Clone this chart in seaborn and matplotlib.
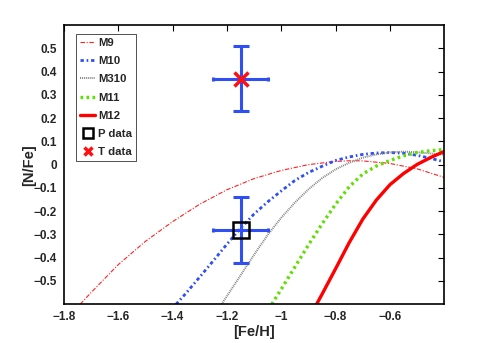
import matplotlib
matplotlib.use("Agg")
import matplotlib.pyplot as plt
import seaborn as sns

# ---- data ----
m9_x = [-1.74, -1.70, -1.60, -1.50, -1.40, -1.30, -1.20, -1.10, -1.00, -0.90, -0.80, -0.74, -0.70, -0.60, -0.50, -0.40]
m9_y = [-0.60, -0.55, -0.43, -0.33, -0.245, -0.17, -0.108, -0.06, -0.025, 0.0, 0.014, 0.017, 0.016, 0.005, -0.018, -0.055]

m10_x = [-1.387, -1.35, -1.30, -1.25, -1.20, -1.15, -1.10, -1.05, -1.00, -0.95, -0.90, -0.85, -0.80, -0.75, -0.70, -0.65, -0.60, -0.55, -0.50, -0.45, -0.40]
m10_y = [-0.60, -0.552, -0.483, -0.413, -0.342, -0.274, -0.212, -0.160, -0.113, -0.068, -0.034, -0.007, 0.018, 0.033, 0.044, 0.050, 0.052, 0.049, 0.040, 0.027, 0.012]

m310_x = [-1.22, -1.20, -1.15, -1.10, -1.05, -1.00, -0.95, -0.90, -0.85, -0.80, -0.75, -0.70, -0.65, -0.60, -0.55, -0.50, -0.45, -0.40]
m310_y = [-0.60, -0.565, -0.476, -0.387, -0.302, -0.228, -0.163, -0.106, -0.058, -0.02, 0.008, 0.03, 0.044, 0.053, 0.056, 0.053, 0.048, 0.043]

m11_x = [-1.035, -1.00, -0.95, -0.90, -0.85, -0.80, -0.75, -0.70, -0.65, -0.60, -0.55, -0.50, -0.45, -0.40]
m11_y = [-0.60, -0.535, -0.44, -0.345, -0.255, -0.17, -0.095, -0.04, -0.006, 0.018, 0.038, 0.052, 0.06, 0.065]

m12_x = [-0.87, -0.85, -0.80, -0.75, -0.70, -0.65, -0.60, -0.55, -0.50, -0.45, -0.40]
m12_y = [-0.60, -0.557, -0.447, -0.335, -0.234, -0.152, -0.086, -0.038, 0.001, 0.031, 0.057]

p_x, p_y, p_xerr, p_yerr = -1.15, -0.28, 0.10, 0.142
t_x, t_y, t_xerr, t_yerr = -1.15, 0.37, 0.10, 0.14

x_ticks = [-1.8, -1.6, -1.4, -1.2, -1.0, -0.8, -0.6]
x_labels = ["\u22121.8", "\u22121.6", "\u22121.4", "\u22121.2", "\u22121", "\u22120.8", "\u22120.6"]
y_ticks = [-0.5, -0.4, -0.3, -0.2, -0.1, 0, 0.1, 0.2, 0.3, 0.4, 0.5]
y_labels = ["\u22120.5", "\u22120.4", "\u22120.3", "\u22120.2", "\u22120.1", "0", "0.1", "0.2", "0.3", "0.4", "0.5"]

# ---- figure ----
sns.set_theme(style="white")
plt.rcParams['font.family'] = ['Liberation Sans', 'DejaVu Sans']
fig = plt.figure(figsize=(4.91, 3.43), dpi=100)
ax = fig.add_axes([0.130, 0.113, 0.775, 0.814])

blue = '#2f4ff5'
sns.lineplot(x=m9_x, y=m9_y, ax=ax, color='#ff2020', lw=0.8, label='M9',
             sort=False, estimator=None)
ax.lines[-1].set_dashes([4, 1.5, 1, 1.5])
sns.lineplot(x=m10_x, y=m10_y, ax=ax, color=blue, lw=2.0, label='M10',
             sort=False, estimator=None)
ax.lines[-1].set_dashes([1.2, 1.0, 0.6, 1.0])
sns.lineplot(x=m310_x, y=m310_y, ax=ax, color='#808080', lw=1.4, label='M310',
             sort=False, estimator=None)
ax.lines[-1].set_dashes([0.5, 0.5])
sns.lineplot(x=m11_x, y=m11_y, ax=ax, color='#5ee000', lw=2.4, label='M11',
             sort=False, estimator=None)
ax.lines[-1].set_dashes([0.8, 1.0])
sns.lineplot(x=m12_x, y=m12_y, ax=ax, color='#ff0000', lw=2.4, label='M12',
             sort=False, estimator=None)

# error bars
for cx, cy, xe, ye in [(p_x, p_y, p_xerr, p_yerr), (t_x, t_y, t_xerr, t_yerr)]:
    ax.errorbar([cx], [cy], yerr=[ye], fmt='none', ecolor=blue, elinewidth=2.2,
                capsize=5.5, capthick=2.2, zorder=4)
    ax.errorbar([cx], [cy], xerr=[xe], fmt='none', ecolor=blue, elinewidth=2.2,
                capsize=1.2, capthick=2.2, zorder=4)

ax.plot([p_x], [p_y], ls='none', marker='s', ms=11, mfc='none', mec='black',
        mew=1.8, label='P data', zorder=5)
ax.plot([t_x], [t_y], ls='none', marker='x', ms=10.5, mec='#ff1010',
        mew=2.5, label='T data', zorder=5)

ax.set_xlim(-1.8, -0.4)
ax.set_ylim(-0.6, 0.6)
ax.set_xticks(x_ticks)
ax.set_xticklabels(x_labels, fontsize=8.5, fontweight='bold')
ax.set_yticks(y_ticks)
ax.set_yticklabels(y_labels, fontsize=8.5, fontweight='bold')
ax.tick_params(direction='in', top=True, right=True, length=4, width=0.8,
               color='black', pad=5)
ax.set_xlabel('[Fe/H]', fontsize=10.5, fontweight='bold', labelpad=1)
ax.set_ylabel('[N/Fe]', fontsize=10.5, fontweight='bold')
ax.yaxis.set_label_coords(-0.072, 0.5)
for s in ax.spines.values():
    s.set_color('black')
    s.set_linewidth(1.2)

leg = ax.legend(loc='upper left', bbox_to_anchor=(0.032, 0.968), borderaxespad=0,
                prop={'weight': 'bold', 'size': 8.2}, handlelength=1.35,
                handletextpad=0.25, labelspacing=0.72, frameon=True, fancybox=False,
                borderpad=0.35, markerscale=0.6)
leg.get_frame().set_edgecolor('black')
leg.get_frame().set_linewidth(0.6)

fig.savefig('out.png', dpi=100)
